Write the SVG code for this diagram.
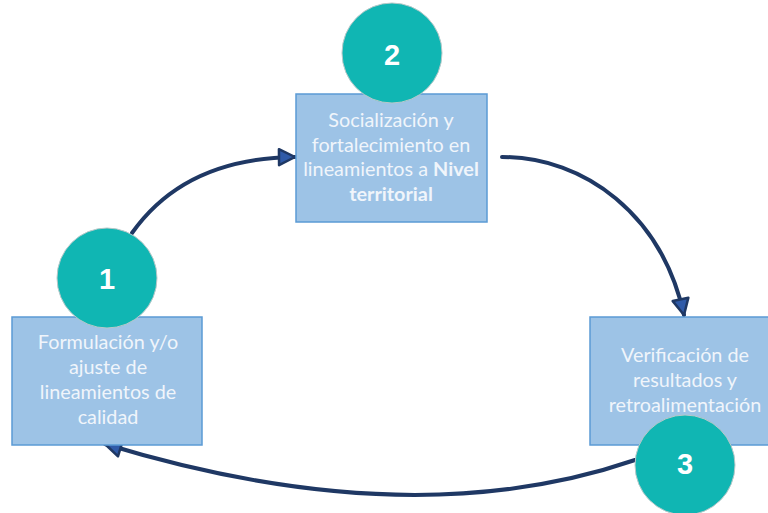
<svg xmlns="http://www.w3.org/2000/svg" width="768" height="513" viewBox="0 0 768 513">
<defs>
<style>
.box{fill:#9dc3e6;stroke:#5b9bd5;stroke-width:1.5}
.circ{fill:#10b6b3;stroke:#b9c9c9;stroke-width:1}
.lbl{font-family:Lato,"Open Sans",sans-serif;font-size:19.8px;fill:#f0f5fb;text-anchor:middle}
.num{font-family:"Liberation Sans",Arial,sans-serif;font-size:29px;font-weight:bold;fill:#ffffff;text-anchor:middle}
.conn{fill:none;stroke:#1f3864;stroke-width:4;stroke-linecap:round}
</style>
<marker id="ah" viewBox="0 0 20 20" refX="18" refY="10" markerWidth="20" markerHeight="20" markerUnits="userSpaceOnUse" orient="auto">
<path d="M2,2 L18,10 L2,18 Z" fill="#2f5aa8" stroke="#1f3864" stroke-width="2.5" stroke-linejoin="round"/>
</marker>
</defs>
<rect width="768" height="513" fill="#ffffff"/>
<g id="connectors">
<path class="conn" d="M132,233 Q185,158 295,157" marker-end="url(#ah)"/>
<path class="conn" d="M502,157 C585,157 662,215 684,315" marker-end="url(#ah)"/>
<path class="conn" d="M635,460 Q410,537 105,444" marker-end="url(#ah)"/>
</g>
<g id="node-2">
<rect class="box" x="296" y="94" width="191" height="128"/>
<text class="lbl" x="391" y="127">Socialización y</text>
<text class="lbl" x="391" y="152">fortalecimiento en</text>
<text class="lbl" x="391" y="176">lineamientos a <tspan font-weight="bold">Nivel</tspan></text>
<text class="lbl" x="391" y="201" font-weight="bold">territorial</text>
<circle class="circ" cx="392" cy="53" r="50"/>
<text class="num" x="392" y="65">2</text>
</g>
<g id="node-1">
<rect class="box" x="12" y="317" width="190" height="128"/>
<text class="lbl" x="108" y="349">Formulación y/o</text>
<text class="lbl" x="108" y="374">ajuste de</text>
<text class="lbl" x="108" y="399">lineamientos de</text>
<text class="lbl" x="108" y="424">calidad</text>
<circle class="circ" cx="107" cy="278" r="50"/>
<text class="num" x="107" y="289">1</text>
</g>
<g id="node-3">
<rect class="box" x="590" y="317" width="190" height="128"/>
<text class="lbl" x="685" y="362">Verificación de</text>
<text class="lbl" x="685" y="387">resultados y</text>
<text class="lbl" x="685" y="412">retroalimentación</text>
<circle class="circ" cx="685" cy="465" r="50"/>
<text class="num" x="685" y="474">3</text>
</g>
</svg>
